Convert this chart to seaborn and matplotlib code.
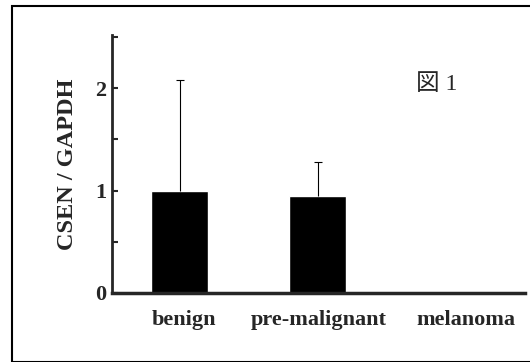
import matplotlib
matplotlib.use("Agg")
import matplotlib.pyplot as plt
import matplotlib.transforms as mtransforms
import seaborn as sns
import pandas as pd
import numpy as np
from matplotlib.patches import Rectangle

categories = ["benign", "pre-malignant", "melanoma"]
values = [1.0, 0.95, 0.0]
errors = [1.08, 0.33, 0.0]

sns.set_theme(style="ticks")
plt.rcParams['font.family'] = ['Liberation Serif', 'DejaVu Serif']

df = pd.DataFrame({"category": categories, "value": values})

fig = plt.figure(figsize=(5.30, 3.62), dpi=100)
ax = fig.add_axes([0.211, 0.191, 0.780, 0.712])

sns.barplot(data=df, x="category", y="value", color="black", width=0.41,
            errorbar=None, ax=ax, saturation=1)
xs = np.arange(len(categories))
mask = np.array(values) > 0
eb = ax.errorbar(xs[mask], np.array(values)[mask],
                 yerr=[np.zeros(mask.sum()), np.array(errors)[mask]],
                 fmt="none", ecolor="black", elinewidth=0.8, capsize=3, capthick=0.8)
eb[1][0].set_visible(False)

ax.set_xlim(-0.49, 2.5)
ax.set_ylim(0, 2.52)
ax.set_yticks([0, 0.5, 1, 1.5, 2, 2.5])
ax.set_yticklabels(["0", "", "1", "", "2", ""])
ax.tick_params(axis="y", direction="in", length=4, width=1.5, labelsize=16, pad=4)
ax.tick_params(axis="x", length=0, labelsize=16, pad=12)
for lab in ax.get_xticklabels() + ax.get_yticklabels():
    lab.set_fontweight("bold")
# slight horizontal nudges of category labels as in the reference
shifts = [4, 1, 10]
for lab, dx in zip(ax.get_xticklabels(), shifts):
    lab.set_transform(lab.get_transform() +
                      mtransforms.ScaledTranslation(dx / 100, 0, fig.dpi_scale_trans))
ax.set_xlabel("")
ax.set_ylabel("CSEN / GAPDH", fontsize=17.5, fontweight="bold", labelpad=12)
sns.despine(ax=ax)
ax.spines["left"].set_linewidth(2)
ax.spines["bottom"].set_linewidth(2.5)

ax.text(0.787, 0.81, "図 1", transform=ax.transAxes, fontsize=17,
        family=["Liberation Serif", "Noto Sans CJK JP"], ha="center", va="center")

fig.patches.append(Rectangle((12/530, 0), 1.2, 1 - 6/362, transform=fig.transFigure,
                             fill=False, edgecolor="black", linewidth=1.5, zorder=10))

fig.savefig("out.png", dpi=100)
